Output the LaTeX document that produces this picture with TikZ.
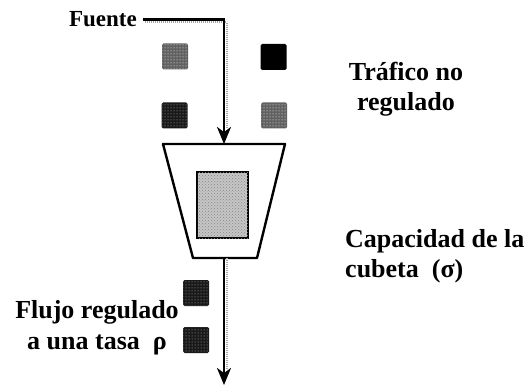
\documentclass[tikz,border=0pt]{standalone}
\usepackage{fontspec}
\setmainfont{Liberation Serif}
\usetikzlibrary{arrows.meta,patterns}

\begin{document}
\begin{tikzpicture}[x=1pt, y=-1pt,
    etiqueta/.style={font=\fontsize{26}{30}\selectfont\bfseries, inner sep=0pt},
    tubo/.style={line width=2.5pt, -{Stealth[length=17pt,width=14pt,inset=5pt]}},
    sombra/.style={gray!70, line width=2pt, dash pattern=on 1.2pt off 0.8pt},
    paquete/.style={minimum size=26pt, inner sep=0pt, rounded corners=1.5pt},
    claro/.style={paquete, fill=black!62, postaction={pattern=dots, pattern color=white}},
    oscuro/.style={paquete, fill=black!90, postaction={pattern=dots, pattern color=gray!60}},
    borde/.style={line width=2.4pt, line join=round},
    arena/.style={draw, line width=2.4pt, minimum width=51pt, minimum height=66pt,
        fill=gray!45, postaction={pattern=crosshatch dots, pattern color=gray!95}}]
    \useasboundingbox (0,0) rectangle (532,387);

    % textos
    \node[etiqueta, font=\fontsize{23}{27}\selectfont\bfseries, anchor=base east] (fuente) at (137,27) {Fuente};
    \node[etiqueta, align=center, anchor=north] (trafico) at (406,62) {Tráfico no\\regulado};
    \node[etiqueta, align=left, anchor=north west] (capacidad) at (345,229) {Capacidad de la\\cubeta~ (σ)};
    \node[etiqueta, font=\fontsize{26}{31}\selectfont\bfseries, align=center, anchor=north] (flujo) at (97,300) {Flujo regulado\\a una tasa~ ρ};

    % paquetes
    \node[claro] (p1) at (175,56.5) {};
    \node[paquete, fill=black] (p2) at (273.5,57) {};
    \node[oscuro] (p3) at (174.5,115.5) {};
    \node[claro] (p4) at (274,115.5) {};
    \node[oscuro] (q1) at (196,293) {};
    \node[oscuro] (q2) at (196,340) {};

    % cubeta
    \coordinate (boca) at (224,144);
    \coordinate (fondo) at (224,258);
    \draw[borde] (163,144) -- (285,144) -- (257,258) -- (193,258) -- cycle;
    \node[arena] (contenido) at (222.5,205) {};

    % flujos
    \coordinate (salida) at (224,385);
    \draw[sombra] ([xshift=8pt,yshift=-2.6pt]fuente.east) -| ([xshift=2.6pt,yshift=16pt]boca);
    \draw[tubo] ([xshift=6pt]fuente.east) -| (boca);
    \draw[sombra] ([xshift=2.6pt]fondo) -- ([xshift=2.6pt,yshift=16pt]salida);
    \draw[tubo] (fondo) -- (salida);
\end{tikzpicture}
\end{document}
